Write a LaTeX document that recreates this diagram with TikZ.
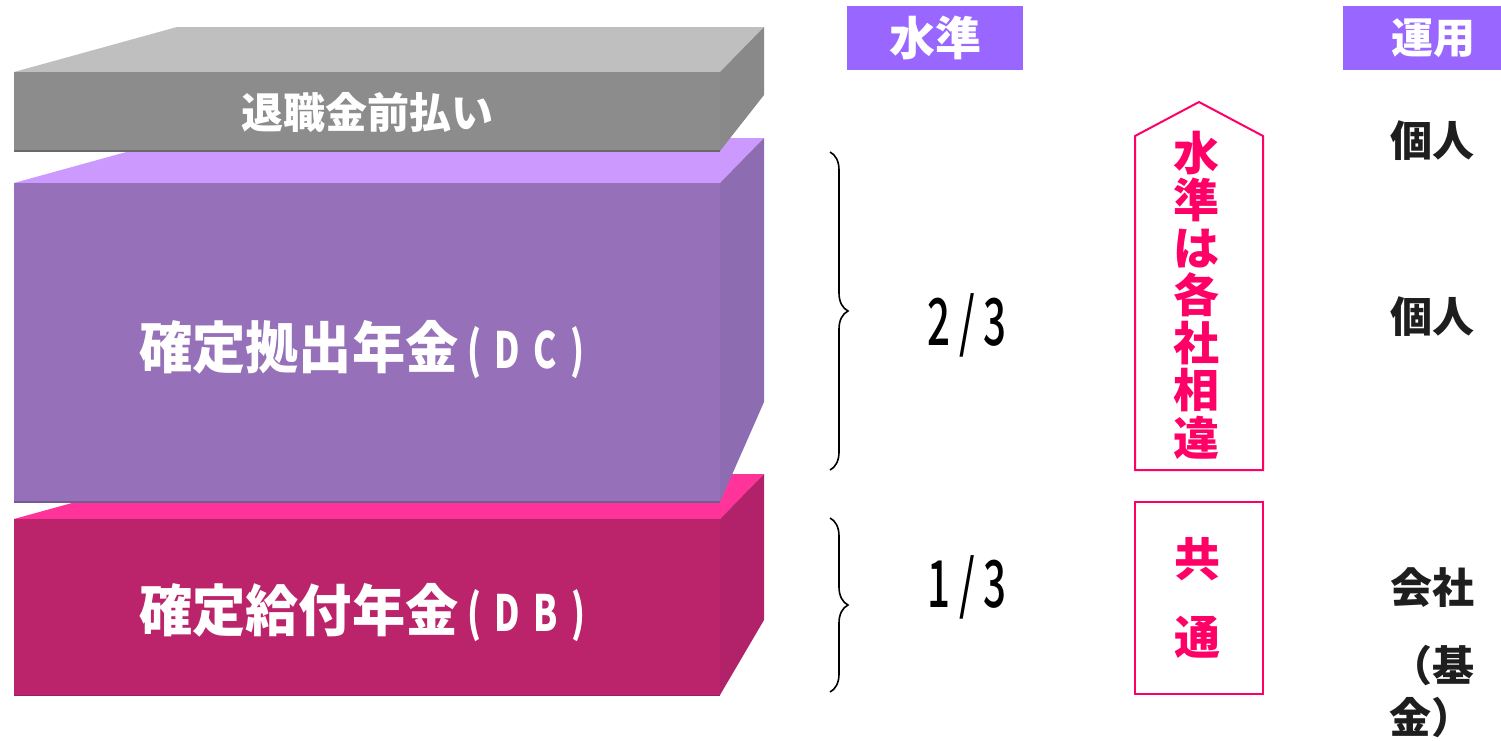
\documentclass[tikz,border=0pt]{standalone}
\usepackage{fontspec}
\setmainfont{Noto Sans CJK JP}
\newfontfamily\condjp{Noto Sans CJK JP}[FakeStretch=0.95]
\IfFontExistsTF{Noto Sans CJK JP Medium}{%
  \newfontfamily\condlat{Noto Sans CJK JP Medium}[FakeStretch=0.7]
  \newfontfamily\numfont{Noto Sans CJK JP Medium}[FakeStretch=0.62]
}{%
  \newfontfamily\condlat{Noto Sans CJK JP}[FakeStretch=0.7, FakeBold=1.2]
  \newfontfamily\numfont{Noto Sans CJK JP}[FakeStretch=0.62, FakeBold=1.2]
}
\usetikzlibrary{decorations.pathreplacing}
\definecolor{graytop}{HTML}{BFBFBF}
\definecolor{grayfront}{HTML}{8C8C8C}
\definecolor{grayside}{HTML}{898989}
\definecolor{purtop}{HTML}{CC99FF}
\definecolor{purfront}{HTML}{9670B8}
\definecolor{purside}{HTML}{8D6CB2}
\definecolor{pintop}{HTML}{FF3399}
\definecolor{pinfront}{HTML}{BB246A}
\definecolor{pinside}{HTML}{B2226A}
\definecolor{hdrpurple}{HTML}{9966FF}
\definecolor{hotpink}{HTML}{FF0066}
\definecolor{darktext}{HTML}{1E1E1E}
\newcommand{\latpart}[2]{{\condlat\fontsize{50}{50}\selectfont\hspace{9pt}(\hspace{13pt}#1\hspace{14pt}#2\hspace{13pt})}}
\tikzset{
  boxtxt/.style={text=white, inner sep=0pt, anchor=base west, font=\condjp\bfseries\fontsize{56}{56}\selectfont},
  hdrbox/.style={fill=hdrpurple, text=white, inner sep=0pt, font=\bfseries\fontsize{46}{46}\selectfont},
  pinkline/.style={draw=hotpink, line width=2pt},
  pinktxt/.style={text=hotpink, inner sep=0pt, align=center},
  fractxt/.style={text=black, inner sep=0pt, anchor=base, font=\numfont\fontsize{65}{65}\selectfont},
  optxt/.style={text=darktext, inner sep=0pt, font=\bfseries\fontsize{42}{42}\selectfont},
  bracestyle/.style={draw=black, line width=1.6pt, decorate, decoration={brace, amplitude=18pt}}
}
\begin{document}
\begin{tikzpicture}[x=1pt, y=-1pt]
\useasboundingbox (0,0) rectangle (1501,740);
% pink (DB) block
\fill[pintop] (14,519) -- (177,474) -- (764,474) -- (720,519) -- cycle;
\fill[pinside] (720,519) -- (764,474) -- (764,620) -- (720,695) -- cycle;
\fill[pinfront] (14,519) rectangle (720,695);
\draw[pinfront!85!black, line width=1pt] (14,695) -- (720,695);
% purple (DC) block
\fill[purtop] (14,183) -- (177,138) -- (764,138) -- (720,183) -- cycle;
\fill[purside] (720,183) -- (764,138) -- (764,402) -- (720,502) -- cycle;
\fill[purfront] (14,183) rectangle (720,502);
\draw[purfront!80!black, line width=1.5pt] (14,502) -- (720,502);
% gray block
\fill[graytop] (14,72) -- (177,27) -- (764,27) -- (720,72) -- cycle;
\fill[grayside] (720,72) -- (764,27) -- (764,95) -- (720,151) -- cycle;
\fill[grayfront] (14,72) rectangle (720,151);
\draw[grayfront!75!black, line width=1.5pt] (14,151) -- (720,151);
% block labels
\node[text=white, inner sep=0pt, font=\bfseries\fontsize{42}{42}\selectfont] (pre) at (367,113) {退職金前払い};
\node[boxtxt] (dc) at (139,368) {確定拠出年金\latpart{D}{C}};
\node[boxtxt] (db) at (139,631) {確定給付年金\latpart{D}{B}};
% headers
\node[hdrbox, minimum width=176pt, minimum height=64pt] (h1) at (935,38) {水準};
\node[hdrbox, minimum width=158pt, minimum height=64pt, font=\bfseries\fontsize{42}{42}\selectfont] (h2) at (1422,38) {\hspace*{22pt}運用};
% braces
\coordinate (b1t) at (830,152);
\coordinate (b1b) at (830,470);
\coordinate (b2t) at (830,518);
\coordinate (b2b) at (830,692);
\draw[bracestyle] (b1t) -- (b1b);
\draw[bracestyle] (b2t) -- (b2b);
% fractions
\node[fractxt] (f1) at (967,345) {2\hspace{9pt}/\hspace{9pt}3};
\node[fractxt] (f2) at (967,607) {1\hspace{9pt}/\hspace{9pt}3};
% pentagon and common box
\draw[pinkline] (1135,470) -- (1135,136) -- (1199,102) -- (1263,136) -- (1263,470) -- cycle;
\node[pinktxt, font=\bfseries\fontsize{46}{47.5}\selectfont] (lvl) at (1196,295) {水\\準\\は\\各\\社\\相\\違};
\draw[pinkline] (1135,502) rectangle (1263,694);
\node[pinktxt, font=\bfseries\fontsize{46}{78}\selectfont] (com) at (1197,598) {共\\通};
% management column
\node[optxt] (o1) at (1432,141) {個人};
\node[optxt] (o2) at (1432,317) {個人};
\node[optxt] (o3) at (1432,588) {会社};
\node[optxt] (o4) at (1432,666) {（基};
\node[optxt] (o5) at (1431,718) {金）};
\end{tikzpicture}
\end{document}
